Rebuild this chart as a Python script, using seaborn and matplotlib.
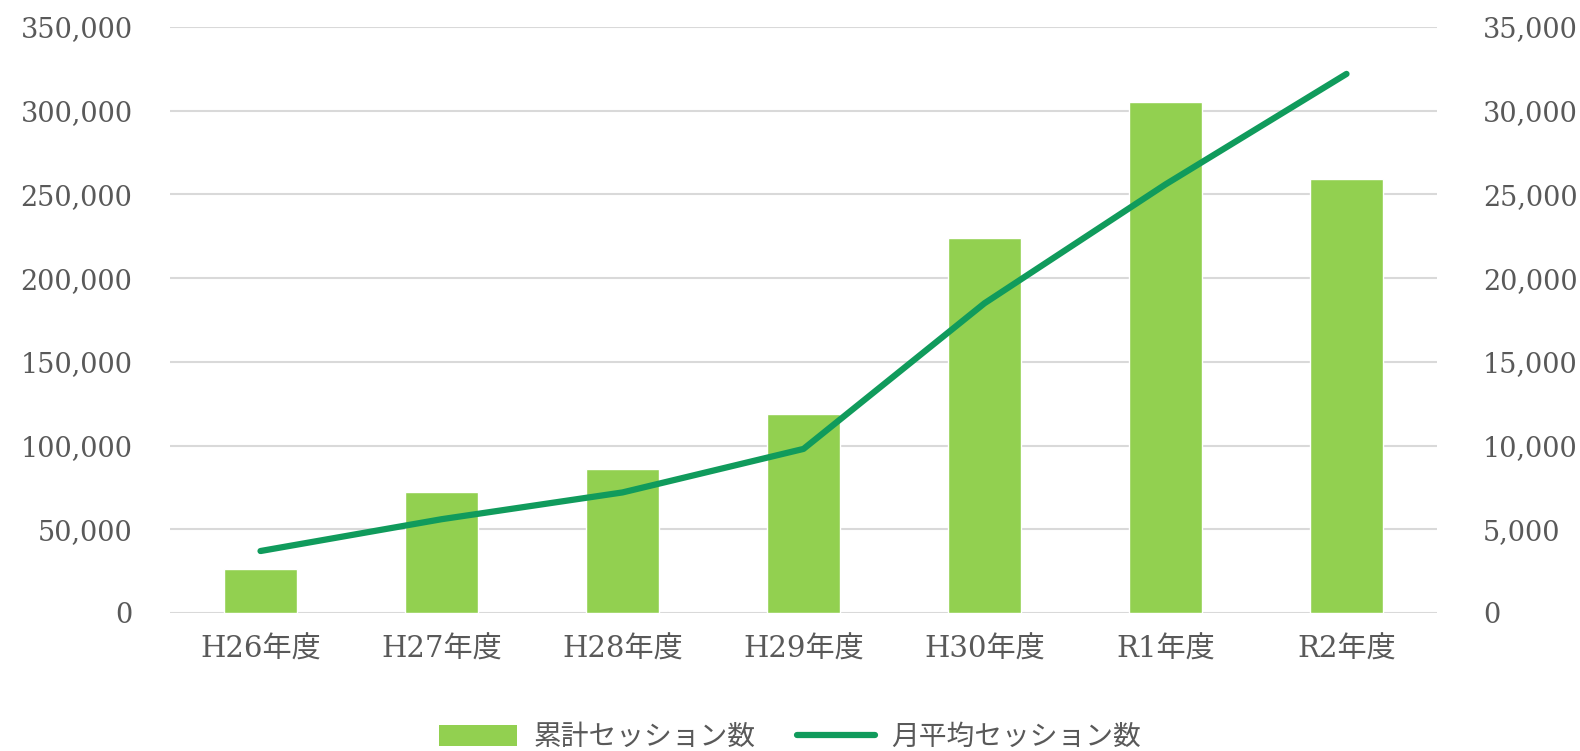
import matplotlib
matplotlib.use("Agg")
import matplotlib.pyplot as plt
import seaborn as sns
import pandas as pd
from matplotlib.ticker import FuncFormatter, MultipleLocator
from matplotlib.patches import Patch
from matplotlib.lines import Line2D

categories = ["H26年度", "H27年度", "H28年度", "H29年度", "H30年度", "R1年度", "R2年度"]
total_sessions = [26000, 72000, 86000, 119000, 224000, 305000, 259000]
monthly_avg = [3700, 5600, 7200, 9800, 18500, 25600, 32200]
bar_label = "累計セッション数"
line_label = "月平均セッション数"

sns.set_theme(style="white")
plt.rcParams['font.family'] = ['DejaVu Serif', 'Noto Sans CJK JP']

df = pd.DataFrame({"cat": categories, "total": total_sessions, "avg": monthly_avg})

fig = plt.figure(figsize=(15.8, 7.51), dpi=100)
ax = fig.add_axes([0.1076, 0.1838, 0.8019, 0.7802])

bar_color = "#92D050"
line_color = "#109B5C"
text_color = "#595959"

sns.barplot(data=df, x="cat", y="total", color=bar_color, width=0.4, ax=ax,
            saturation=1, zorder=2)
ax.set_ylim(0, 350000)
ax.yaxis.set_major_locator(MultipleLocator(50000))
ax.yaxis.set_major_formatter(FuncFormatter(lambda v, p: f"{int(v):,}"))
ax.grid(axis="y", color="#D9D9D9", linewidth=1.5, zorder=0)
ax.set_axisbelow(True)
ax.set_xlabel("")
ax.set_ylabel("")
ax.set_xlim(-0.5, len(categories) - 0.5)

ax2 = ax.twinx()
sns.lineplot(data=df, x="cat", y="avg", color=line_color, linewidth=4.5, ax=ax2,
             sort=False, zorder=3)
ax2.set_ylim(0, 35000)
ax2.yaxis.set_major_locator(MultipleLocator(5000))
ax2.yaxis.set_major_formatter(FuncFormatter(lambda v, p: f"{int(v):,}"))
ax2.set_ylabel("")
ax2.set_xlabel("")
ax2.grid(False)

for a in (ax, ax2):
    for s in a.spines.values():
        s.set_visible(False)
    a.tick_params(axis="both", length=0, colors=text_color, labelsize=19.5)

ax.tick_params(axis="y", pad=27)
ax2.tick_params(axis="y", pad=33)
ax.tick_params(axis="x", pad=16)
for lbl in ax.get_xticklabels():
    lbl.set_fontsize(21)

handles = [Patch(facecolor=bar_color, edgecolor="none"),
           Line2D([0], [0], color=line_color, linewidth=4.5)]
fig.legend(handles, [bar_label, line_label], loc="lower center", ncol=2,
           bbox_to_anchor=(0.5, -0.035), frameon=False,
           prop={"family": ["Noto Sans CJK JP"], "size": 20},
           labelcolor=text_color, handlelength=2.8, handleheight=0.8,
           columnspacing=1.5, handletextpad=0.6)

fig.savefig("out.png", dpi=100)
